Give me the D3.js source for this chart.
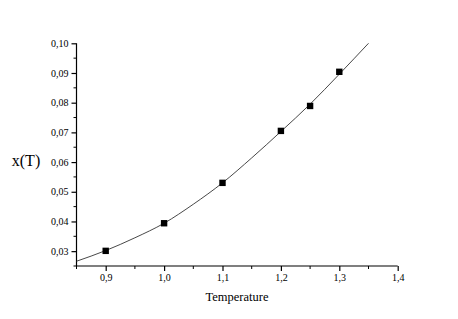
<!DOCTYPE html>
<html>
<head>
<meta charset="utf-8">
<title></title>
<script src="https://cdnjs.cloudflare.com/ajax/libs/d3/7.8.5/d3.min.js"></script>
<style>
body { margin: 0; background: #fff; }
text { font-family: "Liberation Serif", "DejaVu Serif", serif; }
</style>
</head>
<body>
<script>
// measured points
const temps = [0.9, 1.0, 1.1, 1.2, 1.25, 1.3];
const xValues = [0.0301, 0.0394, 0.0530, 0.0705, 0.0789, 0.0904];

// fit curve
const fitTemps = [0.85, 0.90, 0.95, 1.00, 1.05, 1.10, 1.15, 1.20, 1.25, 1.30, 1.35];
const fitValues = [0.0266, 0.0302, 0.0345, 0.0394, 0.0458, 0.0530, 0.0614, 0.0703, 0.0795, 0.0896, 0.1000];

const xTicks = [0.9, 1.0, 1.1, 1.2, 1.3, 1.4];
const yTicks = [0.03, 0.04, 0.05, 0.06, 0.07, 0.08, 0.09, 0.10];

const width = 458, height = 319;

const svg = d3.select('body').append('svg')
  .attr('width', width)
  .attr('height', height);

const xScale = d3.scaleLinear().domain([0.85, 1.4]).range([76.5, 397.7]);
const yScale = d3.scaleLinear().domain([0.025, 0.10]).range([266, 43.3]);

const fmt = (d, n) => d.toFixed(n).replace('.', ',');

// minor ticks
const xMinor = d3.range(0.85, 1.401, 0.1);
const yMinor = d3.range(0.025, 0.1, 0.01);

const xAxis = d3.axisBottom(xScale).tickValues(xTicks).tickSize(5).tickPadding(3)
  .tickFormat(d => fmt(d, 1));
const yAxis = d3.axisLeft(yScale).tickValues(yTicks).tickSize(5).tickPadding(3)
  .tickFormat(d => fmt(d, 2));

const gx = svg.append('g').attr('transform', 'translate(0,266)').call(xAxis);
gx.select('.domain').attr('d', 'M76.5,0H397.7');
gx.selectAll('.tick text').attr('font-size', 10).attr('font-family', 'Liberation Serif');
gx.selectAll('.tick line').attr('stroke-width', 1.2);
gx.selectAll('.minor').data(xMinor).enter().append('line')
  .attr('x1', d => xScale(d)).attr('x2', d => xScale(d))
  .attr('y1', 0).attr('y2', 3).attr('stroke', '#000');

const gy = svg.append('g').attr('transform', 'translate(76.5,0)').call(yAxis);
gy.select('.domain').attr('d', 'M0,43.3V266');
gy.selectAll('.tick text').attr('font-size', 10).attr('font-family', 'Liberation Serif');
gy.selectAll('.tick line').attr('stroke-width', 1.2);
gy.selectAll('.minor').data(yMinor).enter().append('line')
  .attr('y1', d => yScale(d)).attr('y2', d => yScale(d))
  .attr('x1', 0).attr('x2', -3).attr('stroke', '#000');

svg.selectAll('.domain').attr('stroke-width', 1.2);

// fit line
const fitData = fitTemps.map((t, i) => [t, fitValues[i]]);
svg.append('path')
  .datum(fitData)
  .attr('fill', 'none')
  .attr('stroke', '#333')
  .attr('stroke-width', 0.9)
  .attr('d', d3.line()
    .x(d => xScale(d[0]))
    .y(d => yScale(d[1]))
    .curve(d3.curveMonotoneX));

// points
svg.append('g').selectAll('rect')
  .data(temps.map((t, i) => [t, xValues[i]]))
  .enter().append('rect')
  .attr('x', d => xScale(d[0]) - 3.2)
  .attr('y', d => yScale(d[1]) - 3.2)
  .attr('width', 6.4)
  .attr('height', 6.4)
  .attr('fill', '#000');

// labels
svg.append('text')
  .attr('x', 237).attr('y', 301)
  .attr('text-anchor', 'middle')
  .attr('font-size', 12.5)
  .text('Temperature');

svg.append('text')
  .attr('x', 26).attr('y', 166)
  .attr('text-anchor', 'middle')
  .attr('font-size', 16)
  .text('x(T)');
</script>
</body>
</html>
